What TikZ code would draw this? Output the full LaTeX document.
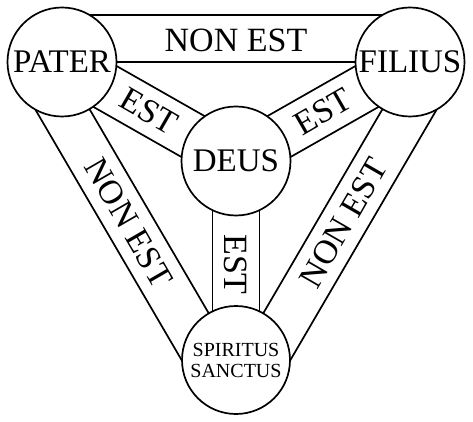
\documentclass[tikz,border=0pt]{standalone}
\usepackage{fontspec}
\setmainfont{Liberation Serif}
\usetikzlibrary{calc}
\pgfdeclarelayer{background}
\pgfsetlayers{background,main}
\begin{document}
\begin{tikzpicture}[x=1pt,y=-1pt,
  line width=1.7pt,
  band/.style={line width=1.7pt},
  circ/.style={circle,draw,fill=white,minimum size=109pt,inner sep=0pt,
    font=\fontsize{33}{35}\selectfont},
  small/.style={circle,draw,fill=white,minimum size=108pt,inner sep=0pt,
    font=\fontsize{20}{21}\selectfont,align=center},
  lbl/.style={font=\fontsize{34}{36}\selectfont,inner sep=0pt}]
\useasboundingbox (0,0) rectangle (473,422);
\node[circ] (P) at (62,62) {PATER};
\node[circ] (F) at (410,62) {FILIUS};
\node[circ] (D) at (236,161) {DEUS};
\node[small] (S) at (236,360) {SPIRITUS\\SANCTUS};
\begin{pgfonlayer}{background}
\begin{scope}[band]
  % outer bands
  \draw (P.center) -- (F.center);
  \draw ($(P.center)!47pt!90:(F.center)$) -- ($(F.center)!47pt!-90:(P.center)$);
  \draw (P.center) -- (S.center);
  \draw ($(P.center)!47pt!-90:(S.center)$) -- ($(S.center)!47pt!90:(P.center)$);
  \draw (F.center) -- (S.center);
  \draw ($(F.center)!47pt!90:(S.center)$) -- ($(S.center)!47pt!-90:(F.center)$);
  % inner bands
  \draw ($(P.center)!23.5pt!90:(D.center)$) -- ($(D.center)!23.5pt!-90:(P.center)$);
  \draw ($(P.center)!23.5pt!-90:(D.center)$) -- ($(D.center)!23.5pt!90:(P.center)$);
  \draw ($(F.center)!23.5pt!90:(D.center)$) -- ($(D.center)!23.5pt!-90:(F.center)$);
  \draw ($(F.center)!23.5pt!-90:(D.center)$) -- ($(D.center)!23.5pt!90:(F.center)$);
  \draw ($(S.center)!23.5pt!90:(D.center)$) -- ($(D.center)!23.5pt!-90:(S.center)$);
  \draw ($(S.center)!23.5pt!-90:(D.center)$) -- ($(D.center)!23.5pt!90:(S.center)$);
\end{scope}
\end{pgfonlayer}
% labels
\coordinate (mPF) at ($(P.center)!0.5!(F.center)$);
\coordinate (mPS) at ($(P.center)!0.5!(S.center)$);
\coordinate (mFS) at ($(F.center)!0.5!(S.center)$);
\node[lbl] (t1) at ($(mPF)!22pt!90:(F.center)$) {NON EST};
\node[lbl,rotate=-60] (t2) at ($(mPS)!23.5pt!-90:(S.center)$) {NON EST};
\node[lbl,rotate=60] (t3) at ($(mFS)!23.5pt!90:(S.center)$) {NON EST};
\node[lbl,rotate=-30] (e1) at ($(P.center)!0.5!(D.center)$) {EST};
\node[lbl,rotate=30] (e2) at ($(F.center)!0.5!(D.center)$) {EST};
\node[lbl,rotate=-90] (e3) at ($(D.center)!0.52!(S.center)$) {EST};
\end{tikzpicture}
\end{document}
